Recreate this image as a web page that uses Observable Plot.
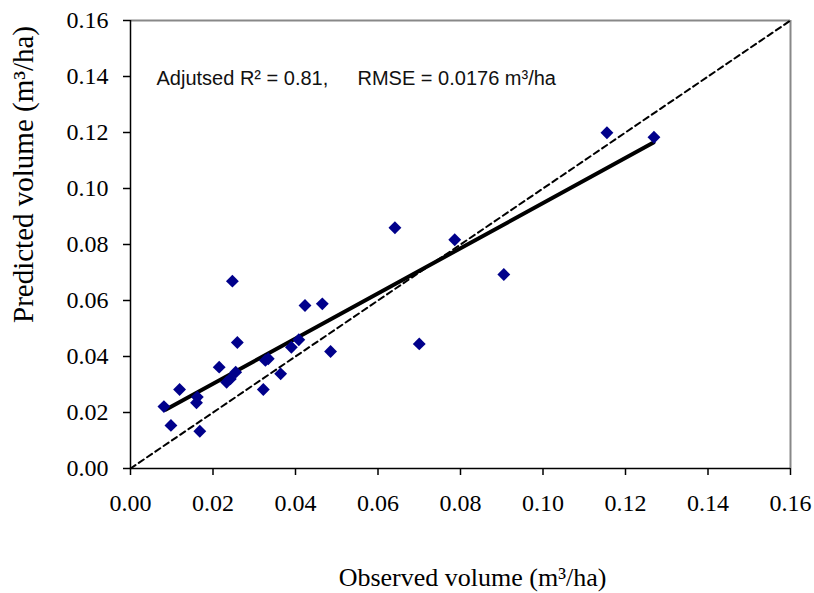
<!DOCTYPE html>
<html><head><meta charset="utf-8">
<script src="https://cdn.jsdelivr.net/npm/d3@7"></script>
<script src="https://cdn.jsdelivr.net/npm/@observablehq/plot@0.6"></script>
<style>body{margin:0;background:#fff} #chart{width:814px;height:593px}</style>
</head><body><div id="chart"></div>
<script>
// Observed vs predicted volume (m3/ha)
const observed  = [0.0081, 0.0098, 0.0119, 0.0162, 0.0160, 0.0168, 0.0215, 0.0233, 0.0242, 0.0255, 0.0247, 0.0259, 0.0322, 0.0327, 0.0334, 0.0364, 0.0390, 0.0408, 0.0423, 0.0465, 0.0485, 0.0641, 0.0700, 0.0786, 0.0905, 0.1155, 0.1269];
const predicted = [0.0221, 0.0154, 0.0282, 0.0255, 0.0235, 0.0133, 0.0362, 0.0308, 0.0320, 0.0344, 0.0669, 0.0450, 0.0282, 0.0386, 0.0392, 0.0338, 0.0433, 0.0460, 0.0582, 0.0588, 0.0418, 0.0860, 0.0445, 0.0817, 0.0693, 0.1199, 0.1183];
// fitted regression line endpoints
const fitX = [0.0085, 0.1268];
const fitY = [0.0210, 0.1164];
// 1:1 reference line
const refX = [0, 0.16];
const refY = [0, 0.16];
const axisDomain = [0, 0.16];
const tickValues = [0, 0.02, 0.04, 0.06, 0.08, 0.10, 0.12, 0.14, 0.16];
const xLabel = "Observed volume (m³/ha)";
const yLabel = "Predicted volume (m³/ha)";
const statR2 = "Adjutsed R² = 0.81,";
const statRmse = "RMSE = 0.0176 m³/ha";

const points = observed.map((o, i) => ({x: o, y: predicted[i]}));
const fit = fitX.map((x, i) => ({x, y: fitY[i]}));
const ref = refX.map((x, i) => ({x, y: refY[i]}));

const serif = "'Liberation Serif', 'Times New Roman', serif";
const sans = "'Liberation Sans', Arial, sans-serif";
const fmt = d3.format(".2f");

const chart = Plot.plot({
  width: 814, height: 593,
  marginLeft: 130, marginRight: 24, marginTop: 20, marginBottom: 125,
  style: {fontFamily: serif, fontSize: "24px", color: "black", background: "white"},
  x: {domain: axisDomain},
  y: {domain: axisDomain},
  marks: [
    Plot.ruleY([axisDomain[1]], {stroke: "#888", strokeWidth: 2}),
    Plot.ruleX([axisDomain[1]], {stroke: "#888", strokeWidth: 2}),
    Plot.ruleX([axisDomain[0]], {stroke: "black", strokeWidth: 1.5}),
    Plot.ruleY([axisDomain[0]], {stroke: "black", strokeWidth: 1.5}),
    Plot.axisX({ticks: tickValues, tickFormat: fmt, tickSize: 7, tickPadding: 18, label: null, stroke: "black", strokeWidth: 1.5, fontSize: 24}),
    Plot.axisY({ticks: tickValues, tickFormat: fmt, tickSize: 7, tickPadding: 15, label: null, stroke: "black", strokeWidth: 1.5, fontSize: 24}),
    Plot.line(ref, {x: "x", y: "y", stroke: "black", strokeWidth: 2, strokeDasharray: "6,4"}),
    Plot.line(fit, {x: "x", y: "y", stroke: "black", strokeWidth: 4}),
    Plot.dot(points, {x: "x", y: "y", symbol: "diamond2", r: 5.8, fill: "#00008B", stroke: "none"}),
    Plot.text([statR2], {frameAnchor: "top-left", dx: 26, dy: 64, lineAnchor: "bottom", textAnchor: "start", fontFamily: sans, fontSize: 20, fill: "#111"}),
    Plot.text([statRmse], {frameAnchor: "top-left", dx: 227, dy: 64, lineAnchor: "bottom", textAnchor: "start", fontFamily: sans, fontSize: 20, fill: "#111"}),
    Plot.text([xLabel], {frameAnchor: "bottom", dx: 12, dy: 117, lineAnchor: "bottom", textAnchor: "middle", fontFamily: serif, fontSize: 26, fill: "black"}),
    Plot.text([yLabel], {frameAnchor: "left", dx: -107, dy: -70, rotate: -90, lineAnchor: "middle", textAnchor: "middle", fontFamily: serif, fontSize: 29, fill: "black"})
  ]
});
document.getElementById("chart").appendChild(chart);
</script>
</body></html>
